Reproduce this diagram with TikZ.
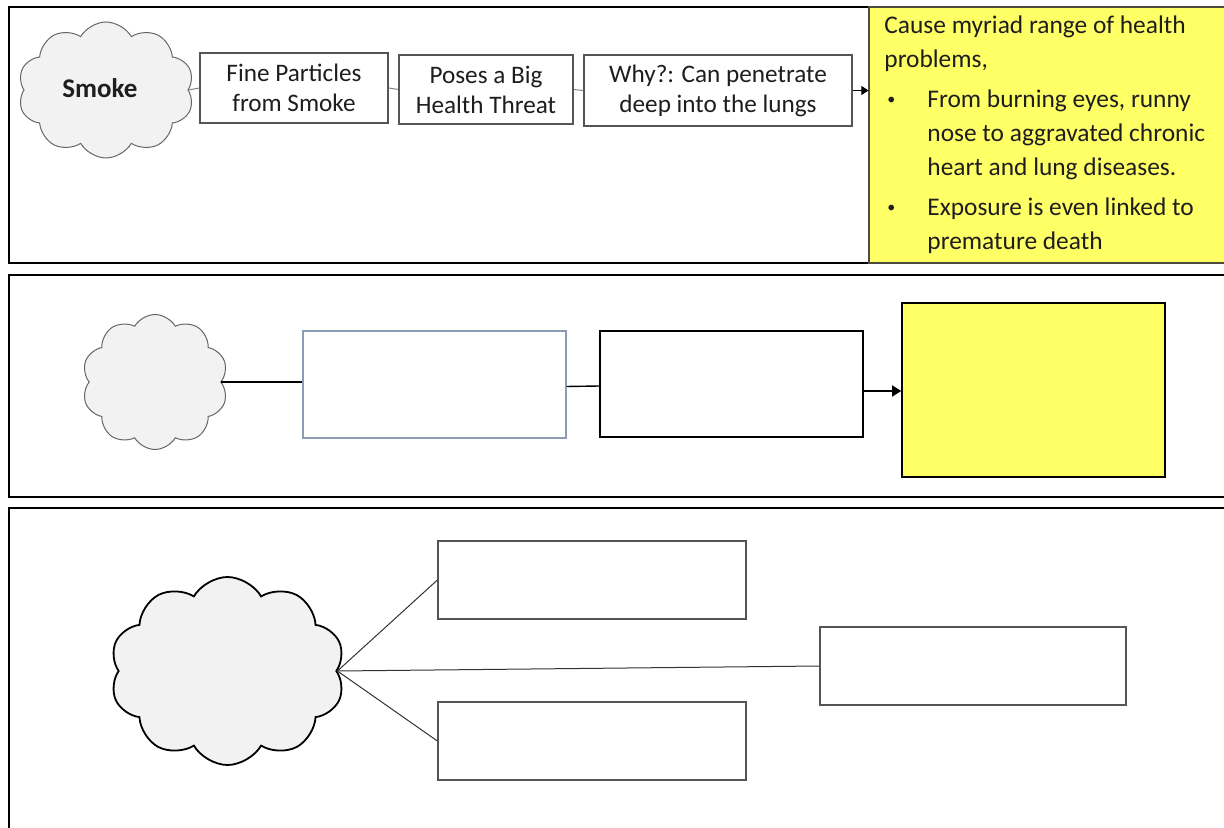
\documentclass[tikz,border=0pt]{standalone}
\usepackage{fontspec}
\setmainfont{Carlito}
\usetikzlibrary{shapes.symbols,arrows.meta}
\definecolor{yel}{RGB}{255,255,102}
\definecolor{cloudfill}{RGB}{242,242,242}
\definecolor{boxgray}{RGB}{85,85,85}
\definecolor{bluegray}{RGB}{140,156,182}
\definecolor{txtcol}{RGB}{30,30,30}
\newcommand{\smallbul}{\makebox[21.5pt][l]{\hspace*{1.5pt}{\fontsize{8pt}{8pt}\selectfont\raisebox{1.2pt}{\textbullet}}}}
\begin{document}
\begin{tikzpicture}[x=0.5pt,y=-0.5pt,
  panel/.style={draw=black,line width=1pt},
  smokecloud/.style={cloud,cloud puffs=10,cloud puff arc=120,aspect=1.3,fill=cloudfill,draw=gray!80!black,line width=0.5pt,inner sep=0pt},
  txtbox/.style={draw=boxgray,line width=0.6pt,align=center,inner sep=0pt,text=txtcol,font=\fontsize{12.6pt}{15pt}\selectfont},
  emptybox/.style={draw=boxgray,line width=0.6pt,inner sep=0pt},
  thinlink/.style={draw=gray,line width=0.5pt},
  blacklink/.style={draw=black,line width=0.7pt},
  tipsmall/.style={-{Triangle[length=3.5pt,width=4.5pt]}},
  tipbig/.style={-{Triangle[length=4.5pt,width=5.5pt]}}]
\useasboundingbox (0,0) rectangle (1224,828);
\fill[white] (0,0) rectangle (1224,828);

% ---------- panel 1 ----------
\draw[panel] (9,7) rectangle (1240,263);
\node[draw=black!80!yellow,fill=yel,line width=0.6pt,minimum width=185pt,minimum height=128pt,inner sep=0pt] (y1) at (1054,135) {};
\node[smokecloud,minimum width=88pt,minimum height=68pt] (c1) at (106,90) {};
\node[font=\bfseries\fontsize{13.5pt}{16pt}\selectfont,text=txtcol,inner sep=0pt] (smk) at (100,88) {Smoke};
\node[txtbox,minimum width=94pt,minimum height=35pt] (b1) at (294,88) {Fine Particles\\from Smoke};
\node[txtbox,minimum width=87pt,minimum height=34.5pt] (b2) at (486,89.5) {Poses a Big\\Health Threat};
\node[txtbox,minimum width=134pt,minimum height=35.5pt] (b3) at (718,90.5) {Why?: Can penetrate\\deep into the lungs};
\node[anchor=north west,inner sep=0pt,align=left,text=txtcol,font=\fontsize{12.7pt}{17pt}\selectfont] (t1) at (884,15)
 {Cause myriad range of health\\
  problems,\\[3pt]
  \smallbul From burning eyes, runny\\
  \hspace*{21.5pt}nose to aggravated chronic\\
  \hspace*{21.5pt}heart and lung diseases.\\[3pt]
  \smallbul Exposure is even linked to\\
  \hspace*{21.5pt}premature death};
\draw[thinlink] (c1.east) -- (b1.west);
\draw[thinlink] (b1.east) -- (b2.west);
\draw[thinlink] (b2.east) -- (b3.west);
\draw[thinlink,draw=black,tipsmall] (b3.east) -- (b3.east -| y1.west);

% ---------- panel 2 ----------
\draw[panel] (9,275) rectangle (1240,497);
\node[smokecloud,minimum width=73pt,minimum height=67.5pt] (c2) at (155,382) {};
\node[draw=bluegray,line width=0.6pt,inner sep=0pt,minimum width=131.5pt,minimum height=53.5pt] (a2) at (434.5,384.5) {};
\node[draw=black,line width=0.8pt,inner sep=0pt,minimum width=131.5pt,minimum height=53pt] (b2b) at (731.5,384) {};
\node[draw=black,fill=yel,line width=0.8pt,inner sep=0pt,minimum width=131.5pt,minimum height=87pt] (y2) at (1033.5,390) {};
\draw[blacklink] (c2.east) -- (c2.east -| a2.west);
\draw[blacklink] ([yshift=-1pt]a2.east) -- ([yshift=-1pt]b2b.west);
\draw[blacklink,tipbig] ([yshift=-3.5pt]b2b.east) -- ([yshift=-3.5pt]b2b.east -| y2.west);

% ---------- panel 3 ----------
\draw[panel] (9,508) rectangle (1240,840);
\node[smokecloud,draw=black,line width=0.9pt,minimum width=117.5pt,minimum height=94pt] (c3) at (227.5,671) {};
\node[emptybox,minimum width=154pt,minimum height=39pt] (r1) at (592,580) {};
\node[emptybox,minimum width=154pt,minimum height=39pt] (r2) at (592,741) {};
\node[emptybox,minimum width=153pt,minimum height=39pt] (r3) at (973,666) {};
\draw[thinlink,draw=black!80] (c3.east) -- (r1.west);
\draw[thinlink,draw=black!80] (c3.east) -- (r2.west);
\draw[thinlink,draw=black!80] (c3.east) -- (r3.west);
\end{tikzpicture}
\end{document}
